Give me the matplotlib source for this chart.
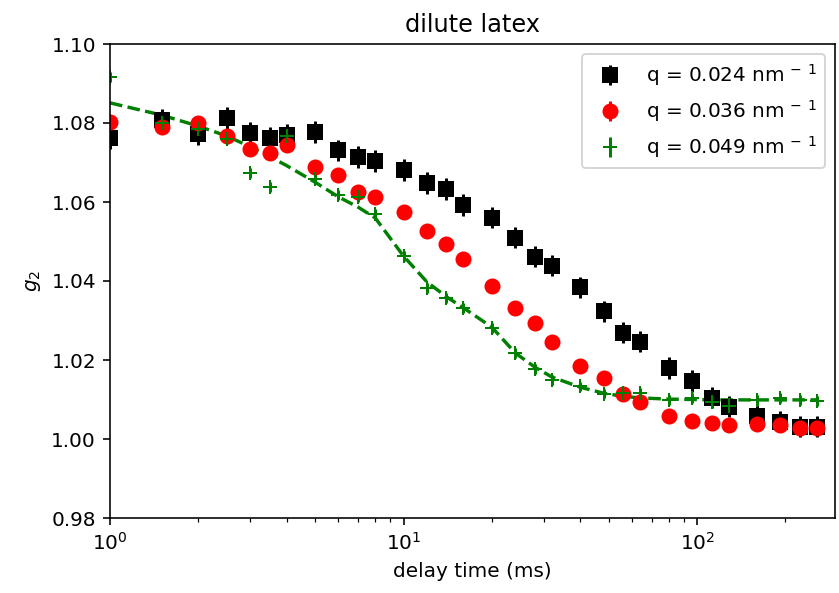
import numpy as np
import matplotlib
matplotlib.use("Agg")
import matplotlib.pyplot as plt

# delay times (ms)
t = np.array([1, 1.5, 2, 2.5, 3, 3.5, 4, 5, 6, 7, 8, 10, 12, 14, 16, 20, 24, 28, 32,
              40, 48, 56, 64, 80, 96, 112, 128, 160, 192, 224, 256])

# g2 for q = 0.024 nm^-1
g2_024 = np.array([1.0762, 1.0808, 1.0771, 1.0813, 1.0775, 1.0763, 1.0770, 1.0777, 1.0731,
                   1.0714, 1.0704, 1.0681, 1.0648, 1.0633, 1.0592, 1.0560, 1.0510, 1.0462,
                   1.0439, 1.0384, 1.0323, 1.0269, 1.0246, 1.0180, 1.0147, 1.0105, 1.0082,
                   1.0058, 1.0044, 1.0031, 1.0031])
# g2 for q = 0.036 nm^-1
g2_036 = np.array([1.0803, 1.0790, 1.0800, 1.0767, 1.0734, 1.0724, 1.0744, 1.0689, 1.0668,
                   1.0626, 1.0613, 1.0575, 1.0527, 1.0494, 1.0455, 1.0387, 1.0332, 1.0294,
                   1.0246, 1.0185, 1.0154, 1.0114, 1.0094, 1.0058, 1.0046, 1.0041, 1.0036,
                   1.0038, 1.0036, 1.0028, 1.0028])
# g2 for q = 0.049 nm^-1
g2_049 = np.array([1.0916, 1.0800, 1.0785, 1.0760, 1.0673, 1.0638, 1.0767, 1.0658, 1.0618,
                   1.0613, 1.0570, 1.0463, 1.0382, 1.0357, 1.0332, 1.0281, 1.0218, 1.0177,
                   1.0149, 1.0133, 1.0115, 1.0117, 1.0116, 1.0099, 1.0104, 1.0094, 1.0084,
                   1.0099, 1.0104, 1.0099, 1.0096])
# fit to q = 0.049 nm^-1
fit_049 = np.array([1.0851, 1.0820, 1.0792, 1.0767, 1.0740, 1.0715, 1.0692, 1.0650, 1.0613,
                    1.0587, 1.0560, 1.0463, 1.0398, 1.0360, 1.0332, 1.0283, 1.0218, 1.0182,
                    1.0157, 1.0131, 1.0116, 1.0108, 1.0104, 1.0101, 1.0100, 1.0099, 1.0099,
                    1.0099, 1.0099, 1.0099, 1.0099])

err_024 = 0.0027
err_036 = 0.0015
err_049 = 0.0012

labels = ["q = 0.024 nm$^{\\,-\\;1}$", "q = 0.036 nm$^{\\,-\\;1}$", "q = 0.049 nm$^{\\,-\\;1}$"]

fig = plt.figure(figsize=(839 / 144, 593 / 144), dpi=144)
ax = fig.add_axes([110 / 839, 75 / 593, 725 / 839, 474 / 593])

ax.errorbar(t, g2_024, yerr=err_024, fmt="ks", ms=7, label=labels[0])
ax.errorbar(t, g2_036, yerr=err_036, fmt="ro", ms=7, label=labels[1])
ax.errorbar(t, g2_049, yerr=err_049, fmt="g+", ms=7, label=labels[2])
ax.plot(t, fit_049, "g--", lw=1.7)

ax.set_xscale("log")
ax.set_xlim(1, 295)
ax.set_ylim(0.98, 1.10)
ax.set_xlabel("delay time (ms)")
ax.set_ylabel("$g_2$")
ax.set_title("dilute latex")
ax.legend(loc="upper right")

fig.savefig("out.png", dpi=144)
